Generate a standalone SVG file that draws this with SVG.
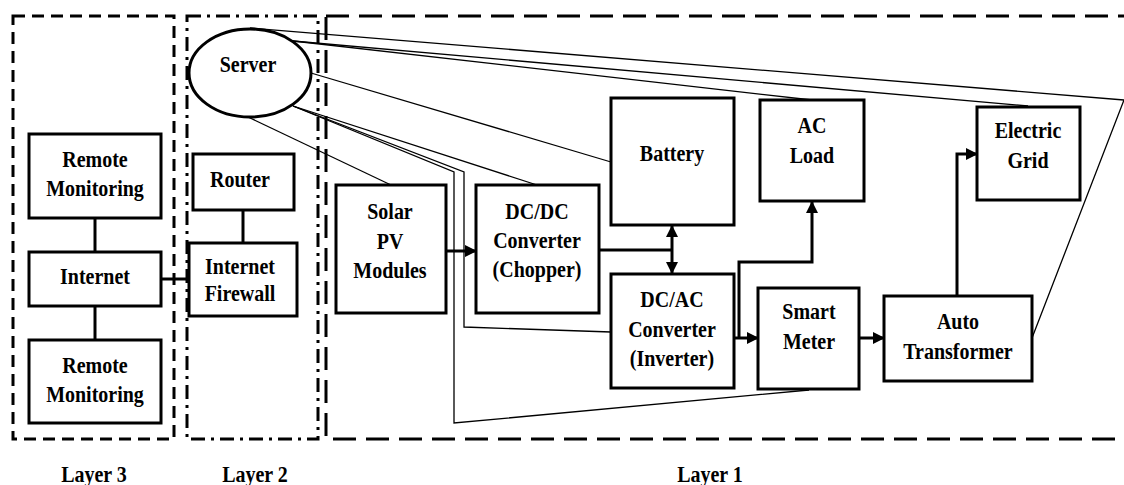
<svg xmlns="http://www.w3.org/2000/svg" width="1124" height="485" viewBox="0 0 1124 485">
<defs>
<marker id="ah" markerWidth="12" markerHeight="12" refX="11" refY="6" orient="auto-start-reverse" markerUnits="userSpaceOnUse">
<path d="M0,0 L12,6 L0,12 Z" fill="#000"/>
</marker>
<style>
.box{fill:#fff;stroke:#000;stroke-width:3}
.t{font-family:"Liberation Serif","Times New Roman",serif;font-weight:bold;font-size:20px;text-anchor:middle;fill:#000;transform-box:fill-box;transform-origin:center;transform:scaleY(1.12)}
.thin{fill:none;stroke:#000;stroke-width:1.3}
.flow{fill:none;stroke:#000;stroke-width:3}
.l3{fill:none;stroke:#000;stroke-width:3;stroke-dasharray:12 7}
.l2{fill:none;stroke:#000;stroke-width:3;stroke-dasharray:14 6 3 6}
.l1{fill:none;stroke:#000;stroke-width:3;stroke-dasharray:23 10}
</style>
</defs>
<rect width="1124" height="485" fill="#fff"/>
<g id="layers">
<rect class="l3" x="13" y="16" width="161" height="423"/>
<rect class="l2" x="187" y="16" width="131" height="423"/>
<rect class="l1" x="326" y="16" width="810" height="423"/>
<text class="t" x="94" y="481">Layer 3</text>
<text class="t" x="255" y="481">Layer 2</text>
<text class="t" x="710" y="481">Layer 1</text>
</g>
<g id="connectors">
<line class="flow" x1="95" y1="218" x2="95" y2="252"/>
<line class="flow" x1="95" y1="306" x2="95" y2="340"/>
<line class="flow" x1="161" y1="279" x2="189" y2="279"/>
<line class="flow" x1="243" y1="210" x2="243" y2="243"/>
<polyline class="thin" points="250,28 1124,100 1032,338"/>
<line class="thin" x1="293" y1="41" x2="1028" y2="106"/>
<line class="thin" x1="293" y1="41" x2="812" y2="100"/>
<line class="thin" x1="311" y1="73" x2="611" y2="162"/>
<line class="thin" x1="293" y1="106" x2="537" y2="185"/>
<polyline class="thin" points="293,106 454,172 454,423 809,390"/>
<polyline class="thin" points="293,106 464,172 464,327 611,332"/>
<line class="thin" x1="248" y1="117" x2="391" y2="185"/>
<line class="flow" x1="446" y1="251" x2="476" y2="251" marker-end="url(#ah)"/>
<line class="flow" x1="599" y1="250" x2="672" y2="250"/>
<line class="flow" x1="672" y1="226" x2="672" y2="273" marker-start="url(#ah)" marker-end="url(#ah)"/>
<line class="flow" x1="734" y1="338" x2="758" y2="338" marker-end="url(#ah)"/>
<polyline class="flow" points="739,338 739,262 812,262 812,202" marker-end="url(#ah)"/>
<line class="flow" x1="859" y1="338" x2="884" y2="338" marker-end="url(#ah)"/>
<polyline class="flow" points="957,296 957,154 977,154" marker-end="url(#ah)"/>
</g>
<g id="server">
<ellipse cx="250" cy="73" rx="61" ry="44" fill="#fff" stroke="#000" stroke-width="3"/>
<text class="t" x="248" y="71">Server</text>
</g>
<g id="remote1">
<rect class="box" x="29" y="134" width="132" height="84"/>
<text class="t" x="95" y="166">Remote</text>
<text class="t" x="95" y="195">Monitoring</text>
</g>
<g id="internet">
<rect class="box" x="29" y="252" width="132" height="54"/>
<text class="t" x="95" y="283">Internet</text>
</g>
<g id="remote2">
<rect class="box" x="29" y="340" width="132" height="83"/>
<text class="t" x="95" y="372">Remote</text>
<text class="t" x="95" y="401">Monitoring</text>
</g>
<g id="router">
<rect class="box" x="193" y="154" width="101" height="56"/>
<text class="t" x="240" y="186">Router</text>
</g>
<g id="firewall">
<rect class="box" x="189" y="243" width="108" height="73"/>
<text class="t" x="240" y="273">Internet</text>
<text class="t" x="240" y="300">Firewall</text>
</g>
<g id="solar">
<rect class="box" x="336" y="185" width="110" height="128"/>
<text class="t" x="390" y="218">Solar</text>
<text class="t" x="390" y="248">PV</text>
<text class="t" x="390" y="277">Modules</text>
</g>
<g id="dcdc">
<rect class="box" x="476" y="185" width="123" height="128"/>
<text class="t" x="537" y="218">DC/DC</text>
<text class="t" x="537" y="247">Converter</text>
<text class="t" x="537" y="276">(Chopper)</text>
</g>
<g id="battery">
<rect class="box" x="611" y="98" width="123" height="127"/>
<text class="t" x="672" y="160">Battery</text>
</g>
<g id="acload">
<rect class="box" x="760" y="100" width="104" height="101"/>
<text class="t" x="812" y="132">AC</text>
<text class="t" x="812" y="162">Load</text>
</g>
<g id="grid">
<rect class="box" x="977" y="107" width="103" height="93"/>
<text class="t" x="1028" y="137">Electric</text>
<text class="t" x="1028" y="167">Grid</text>
</g>
<g id="dcac">
<rect class="box" x="611" y="274" width="123" height="114"/>
<text class="t" x="672" y="306">DC/AC</text>
<text class="t" x="672" y="336">Converter</text>
<text class="t" x="672" y="365">(Inverter)</text>
</g>
<g id="meter">
<rect class="box" x="758" y="288" width="101" height="101"/>
<text class="t" x="809" y="318">Smart</text>
<text class="t" x="809" y="348">Meter</text>
</g>
<g id="auto">
<rect class="box" x="884" y="296" width="148" height="85"/>
<text class="t" x="958" y="328">Auto</text>
<text class="t" x="958" y="358">Transformer</text>
</g>
</svg>
